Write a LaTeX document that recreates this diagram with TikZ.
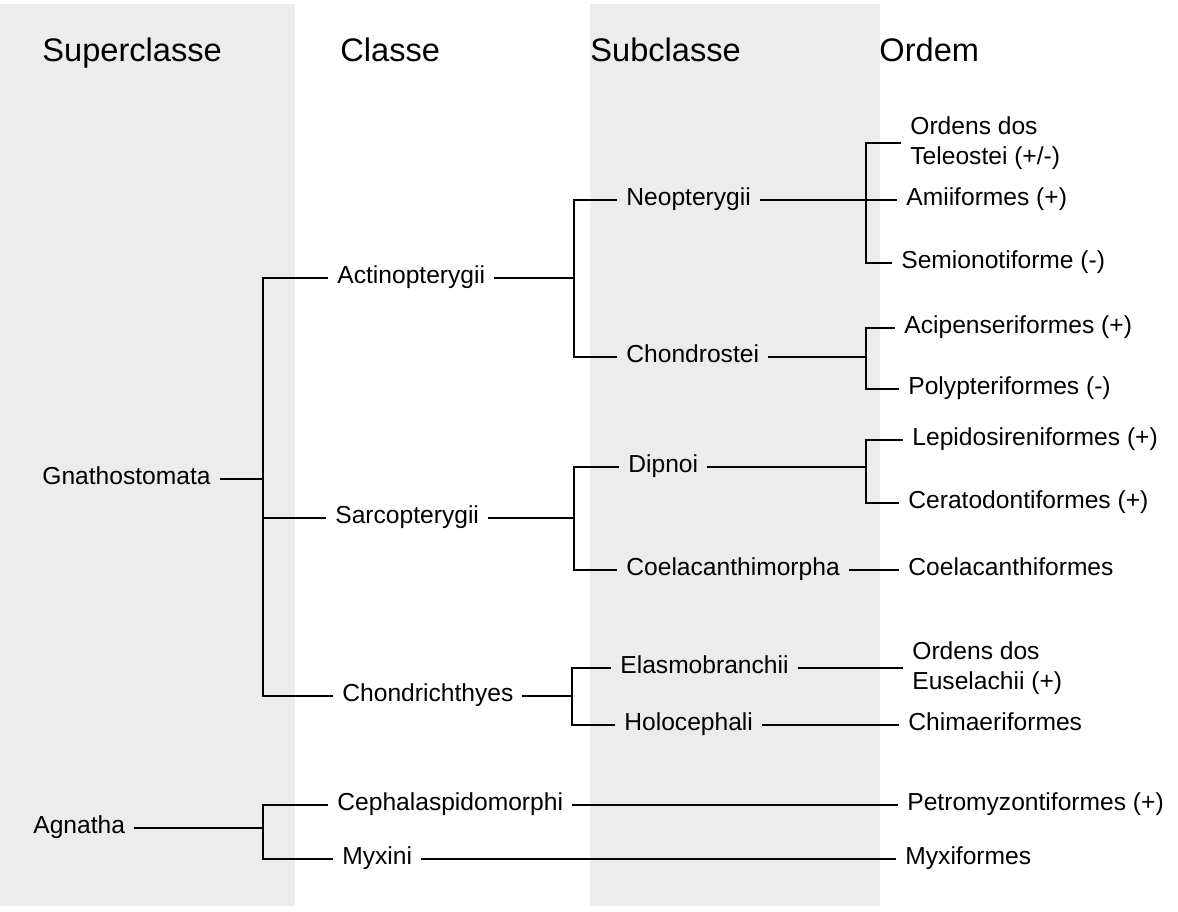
\documentclass[tikz,border=0pt]{standalone}
\usepackage{fontspec}
\setmainfont{Liberation Sans}
\usepackage{xcolor}
\definecolor{scanbg}{RGB}{236,236,236}
\tikzstyle{rank} = [anchor=base west, inner sep=0pt, font=\fontsize{16.3pt}{19pt}\selectfont]
\tikzstyle{taxon} = [anchor=west, inner xsep=5pt, inner ysep=0pt, text height=5pt, text depth=0pt, font=\fontsize{12.3pt}{15pt}\selectfont]
\tikzstyle{taxontwo} = [anchor=west, inner xsep=5pt, inner ysep=0pt, align=left, font=\fontsize{12.3pt}{15pt}\selectfont]
\tikzstyle{branch} = [line width=1.3pt, line cap=rect]

\begin{document}
\begin{tikzpicture}[x=0.5pt, y=-0.5pt]
    \useasboundingbox (0,0) rectangle (1178,911);
    % shaded columns of the scan
    \fill [scanbg] (0,4) rectangle (295,906);
    \fill [scanbg] (590,4) rectangle (880,906);

    % ranks
    \node (h_super) [rank] at (42,61) {Superclasse};
    \node (h_class) [rank] at (340,61) {Classe};
    \node (h_sub) [rank] at (590,61) {Subclasse};
    \node (h_order) [rank] at (879,61) {Ordem};

    % superclasses
    \node (gnatho) [taxon] at (32,479) {Gnathostomata};
    \node (agnatha) [taxon] at (23,828) {Agnatha};

    % classes
    \node (actino) [taxon] at (327,278) {Actinopterygii};
    \node (sarco) [taxon] at (325,518) {Sarcopterygii};
    \node (chondri) [taxon] at (332,696) {Chondrichthyes};
    \node (cephala) [taxon] at (327,805) {Cephalaspidomorphi};
    \node (myxini) [taxon] at (332,859) {Myxini};

    % subclasses
    \node (neopt) [taxon] at (616,200) {Neopterygii};
    \node (chondro) [taxon] at (616,357) {Chondrostei};
    \node (dipnoi) [taxon] at (618,467) {Dipnoi};
    \node (coela) [taxon] at (616,570) {Coelacanthimorpha};
    \node (elasmo) [taxon] at (610,668) {Elasmobranchii};
    \node (holoce) [taxon] at (614,725) {Holocephali};

    % orders
    \node (teleo) [taxontwo] at (900,143) {Ordens dos\\Teleostei (+/-)};
    \node (amii) [taxon] at (896,200) {Amiiformes (+)};
    \node (semion) [taxon] at (891,263) {Semionotiforme (-)};
    \node (acipen) [taxon] at (894,328) {Acipenseriformes (+)};
    \node (polypt) [taxon] at (898,389) {Polypteriformes (-)};
    \node (lepido) [taxon] at (902,440) {Lepidosireniformes (+)};
    \node (cerato) [taxon] at (898,503) {Ceratodontiformes (+)};
    \node (coelaf) [taxon] at (898,570) {Coelacanthiformes};
    \node (eusel) [taxontwo] at (902,668) {Ordens dos\\Euselachii (+)};
    \node (chimae) [taxon] at (898,725) {Chimaeriformes};
    \node (petro) [taxon] at (897,805) {Petromyzontiformes (+)};
    \node (myxif) [taxon] at (895,859) {Myxiformes};

    % junctions
    \coordinate (j_gnatho) at (263,479);
    \coordinate (j_agnatha) at (263,828);
    \coordinate (j_actino) at (574,278);
    \coordinate (j_sarco) at (574,518);
    \coordinate (j_chondri) at (572,696);
    \coordinate (j_chondro) at (866,357);
    \coordinate (j_dipnoi) at (866,467);
    \coordinate (j_neopt) at (866,200);

    % superclass brackets
    \draw [branch] (gnatho) -- (j_gnatho);
    \draw [branch] (actino.west) -- (actino.west -| j_gnatho) -- (chondri.west -| j_gnatho) -- (chondri.west);
    \draw [branch] (sarco.west) -- (sarco.west -| j_gnatho);
    \draw [branch] (agnatha) -- (j_agnatha);
    \draw [branch] (cephala.west) -- (cephala.west -| j_agnatha) -- (myxini.west -| j_agnatha) -- (myxini.west);

    % class brackets
    \draw [branch] (actino) -- (j_actino);
    \draw [branch] (neopt.west) -- (neopt.west -| j_actino) -- (chondro.west -| j_actino) -- (chondro.west);
    \draw [branch] (sarco) -- (j_sarco);
    \draw [branch] (dipnoi.west) -- (dipnoi.west -| j_sarco) -- (coela.west -| j_sarco) -- (coela.west);
    \draw [branch] (chondri) -- (j_chondri);
    \draw [branch] (elasmo.west) -- (elasmo.west -| j_chondri) -- (holoce.west -| j_chondri) -- (holoce.west);
    \draw [branch] (cephala) -- (petro);
    \draw [branch] (myxini) -- (myxif);

    % subclass brackets
    \draw [branch] (neopt) -- (amii);
    \draw [branch] (teleo.west) -- (teleo.west -| j_neopt) -- (semion.west -| j_neopt) -- (semion.west);
    \draw [branch] (chondro) -- (j_chondro);
    \draw [branch] (acipen.west) -- (acipen.west -| j_chondro) -- (polypt.west -| j_chondro) -- (polypt.west);
    \draw [branch] (dipnoi) -- (j_dipnoi);
    \draw [branch] (lepido.west) -- (lepido.west -| j_dipnoi) -- (cerato.west -| j_dipnoi) -- (cerato.west);
    \draw [branch] (coela) -- (coelaf);
    \draw [branch] (elasmo) -- (eusel);
    \draw [branch] (holoce) -- (chimae);
\end{tikzpicture}
\end{document}
